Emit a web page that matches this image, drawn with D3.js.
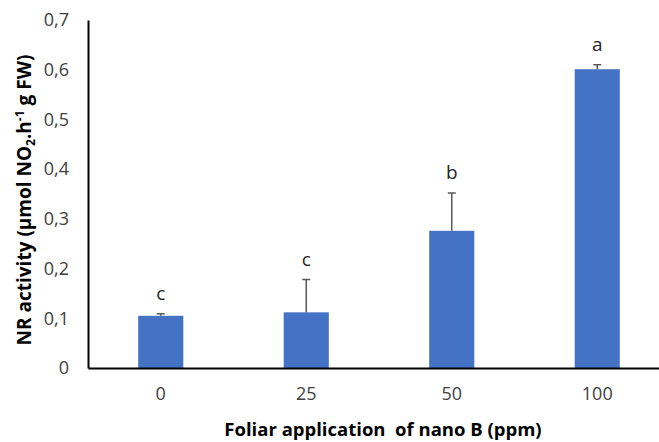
<!DOCTYPE html>
<html><head><meta charset="utf-8">
<script src="https://cdn.jsdelivr.net/npm/d3@7"></script>
<style>body{margin:0;background:#fff}svg{display:block}text{font-family:"Open Sans",Lato,sans-serif}</style>
</head><body>
<svg id="c" width="659" height="442"></svg>
<script>
const categories = ["0", "25", "50", "100"];
const values = [0.105, 0.112, 0.276, 0.601];
const errors = [0.004, 0.066, 0.076, 0.009];
const letters = ["c", "c", "b", "a"];
const yTicks = [0, 0.1, 0.2, 0.3, 0.4, 0.5, 0.6, 0.7];

(function(){
const FONT = "'Open Sans',Lato,sans-serif";
const svg = d3.select("#c");
const mL = 88, mR = 670, mT = 20, mB = 368;
const x = d3.scaleBand().domain(categories).range([mL, mR]).paddingInner(0.69).paddingOuter(0.345);
const y = d3.scaleLinear().domain([0, 0.7]).range([mB, mT]);

// bars
svg.selectAll("rect.bar").data(values).enter().append("rect")
  .attr("x", (d,i) => x(categories[i]))
  .attr("width", x.bandwidth())
  .attr("y", d => y(d))
  .attr("height", d => y(0) - y(d))
  .attr("fill", "#4472C4");

// error bars
const eb = svg.selectAll("g.eb").data(values).enter().append("g");
eb.append("line")
  .attr("x1", (d,i) => x(categories[i]) + x.bandwidth()/2)
  .attr("x2", (d,i) => x(categories[i]) + x.bandwidth()/2)
  .attr("y1", d => y(d))
  .attr("y2", (d,i) => y(d + errors[i]))
  .attr("stroke", "#595959").attr("stroke-width", 1.5);
eb.append("line")
  .attr("x1", (d,i) => x(categories[i]) + x.bandwidth()/2 - 4)
  .attr("x2", (d,i) => x(categories[i]) + x.bandwidth()/2 + 4)
  .attr("y1", (d,i) => y(d + errors[i]))
  .attr("y2", (d,i) => y(d + errors[i]))
  .attr("stroke", "#595959").attr("stroke-width", 1.5);

// letters
svg.selectAll("text.let").data(values).enter().append("text")
  .attr("x", (d,i) => x(categories[i]) + x.bandwidth()/2)
  .attr("y", (d,i) => y(d + errors[i]) - 14)
  .attr("text-anchor", "middle")
  .attr("font-size", 19).attr("fill", "#262626")
  .text((d,i) => letters[i]);

// axes
const yAxis = d3.axisLeft(y).tickValues(yTicks).tickSize(0).tickPadding(19)
  .tickFormat(d => d3.format(".1f")(d).replace(".", ",").replace(/^0,0$/, "0"));
const gy = svg.append("g").attr("transform", `translate(${mL},0)`).call(yAxis);
gy.select(".domain").attr("stroke", "#000").attr("stroke-width", 2);
gy.selectAll("text").attr("font-size", 18).attr("fill", "#404040").style("font-family", FONT);

const xAxis = d3.axisBottom(x).tickSize(0).tickPadding(19);
const gx = svg.append("g").attr("transform", `translate(0,${mB})`).call(xAxis);
gx.select(".domain").attr("stroke", "#000").attr("stroke-width", 2);
gx.selectAll("text").attr("font-size", 18).attr("fill", "#404040").style("font-family", FONT);

// axis titles
svg.append("text").attr("x", 383).attr("y", 436).attr("text-anchor", "middle")
  .attr("font-size", 18.5).attr("font-weight", "bold").attr("fill", "#000")
  .attr("xml:space", "preserve").style("white-space", "pre")
  .text("Foliar application  of nano B (ppm)");

const yl = svg.append("text").attr("transform", "translate(31,200) rotate(-90)")
  .attr("text-anchor", "middle").attr("font-size", 19).attr("font-weight", "bold").attr("fill", "#000");
yl.append("tspan").text("NR activity (µmol NO");
yl.append("tspan").attr("font-size", 12).attr("dy", 4).text("2");
yl.append("tspan").attr("dy", -4).text(".h");
yl.append("tspan").attr("font-size", 12).attr("dy", -7).text("-1");
yl.append("tspan").attr("dy", 7).text(" g FW)");
})();
</script>
</body></html>
